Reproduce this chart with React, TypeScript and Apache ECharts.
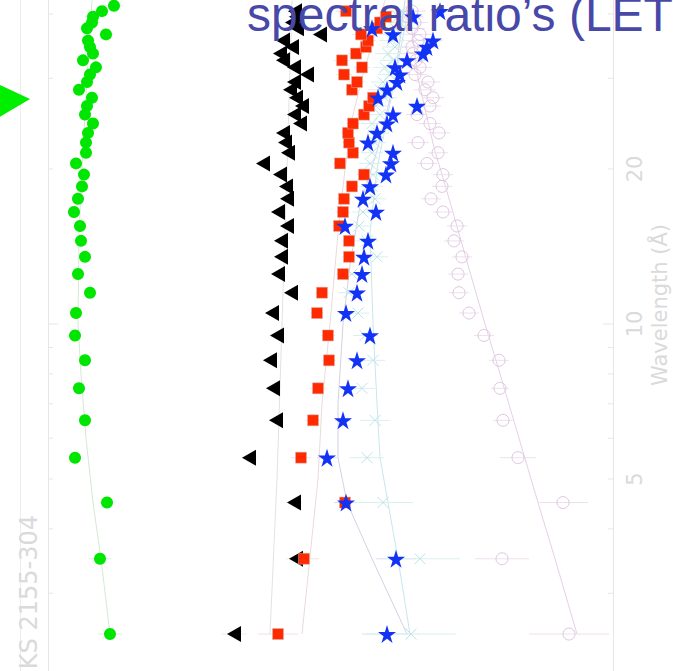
import React, { useEffect, useRef } from 'react';
import * as echarts from 'echarts';

// Wavelength bins (Angstrom), one per row of points
const WAVELENGTH = [2.5, 3.5, 4.5, 5.5, 6.5, 7.5, 8.5, 9.5, 10.5, 11.5, 12.5, 13.5, 14.5, 15.5, 16.5, 17.5, 18.5, 19.5, 20.5, 21.5, 22.5, 23.5, 24.5, 25.5, 26.5, 27.5, 28.5, 29.5, 30.5, 31.5, 32.5, 33.5, 34.5, 35.5, 36.5, 37.5, 38.5, 39.5, 40.5, 41.5];

// Spectral ratios (arbitrary offset units)
const GREEN = [0.62, 0.52, 0.59, 0.27, 0.37, 0.31, 0.37, 0.27, 0.28, 0.42, 0.30, 0.37, 0.33, 0.32, 0.26, 0.30, 0.34, 0.36, 0.28, 0.38, 0.38, 0.40, 0.45, 0.37, 0.39, 0.44, 0.31, 0.39, 0.42, 0.48, 0.35, 0.45, 0.42, 0.40, 0.58, 0.39, 0.44, 0.45, 0.54, 0.66];
const GREEN_ERR = [0.12, 0.11, 0.07, 0.06, 0.05, 0.05, 0.05, 0.05, 0.05, 0.05, 0.05, 0.05, 0.05, 0.05, 0.05, 0.05, 0.05, 0.05, 0.05, 0.05, 0.05, 0.05, 0.05, 0.05, 0.05, 0.06, 0.06, 0.06, 0.06, 0.06, 0.06, 0.06, 0.07, 0.07, 0.07, 0.07, 0.08, 0.08, 0.08, 0.09];

const BLACK = [1.86, 2.48, 2.46, 2.01, 2.28, 2.25, 2.22, 2.29, 2.24, 2.43, 2.30, 2.33, 2.33, 2.39, 2.30, 2.39, 2.38, 2.32, 2.15, 2.40, 2.37, 2.35, 2.52, 2.46, 2.54, 2.48, 2.42, 2.46, 2.59, 2.46, 2.35, 2.32, 2.44, 2.35, 2.72, 2.49, 2.44, 2.48, 2.47, null];
const BLACK_ERR = [0.13, 0.10, 0.08, 0.08, 0.07, 0.07, 0.07, 0.07, 0.06, 0.06, 0.06, 0.06, 0.06, 0.06, 0.06, 0.06, 0.06, 0.06, 0.06, 0.06, 0.06, 0.06, 0.06, 0.06, 0.06, 0.06, 0.07, 0.07, 0.07, 0.07, 0.07, 0.07, 0.07, 0.08, 0.08, 0.08, 0.08, 0.08, 0.09, 0.09];

const RED = [2.30, 2.56, 2.97, 2.53, 2.65, 2.70, 2.81, 2.80, 2.69, 2.74, 2.95, 3.01, 3.01, 2.91, 2.95, 2.96, 3.04, 3.16, 2.92, 3.05, 3.01, 3.00, 3.05, 3.16, 3.21, 3.25, 3.04, 3.09, 2.96, 3.14, 2.94, 3.08, 3.18, 3.20, 3.13, 3.29, 3.32, 3.38, 2.98, null];
const RED_ERR = [0.20, 0.15, 0.10, 0.10, 0.08, 0.08, 0.07, 0.07, 0.07, 0.07, 0.07, 0.07, 0.07, 0.07, 0.07, 0.07, 0.07, 0.07, 0.07, 0.07, 0.07, 0.07, 0.07, 0.07, 0.07, 0.07, 0.07, 0.08, 0.08, 0.08, 0.08, 0.08, 0.08, 0.08, 0.09, 0.09, 0.09, 0.09, 0.10, 0.10];

const STAR = [3.39, 3.48, 2.98, 2.79, 2.95, 3.00, 3.09, 3.22, 2.98, 3.09, 3.14, 3.16, 3.20, 2.97, 3.28, 3.15, 3.22, 3.38, 3.43, 3.45, 3.20, 3.29, 3.39, 3.45, 3.69, 3.30, 3.39, 3.49, 3.52, 3.47, 3.59, 3.75, 3.79, 3.85, 3.45, 3.24, null, 3.65, 3.92, null];
const STAR_ERR = [0.25, 0.20, 0.12, 0.10, 0.08, 0.08, 0.08, 0.08, 0.07, 0.07, 0.07, 0.07, 0.07, 0.07, 0.07, 0.07, 0.07, 0.07, 0.07, 0.07, 0.07, 0.07, 0.07, 0.08, 0.08, 0.08, 0.08, 0.08, 0.08, 0.08, 0.09, 0.09, 0.09, 0.09, 0.10, 0.10, 0.10, 0.10, 0.10, 0.10];

const CROSS = [3.63, 3.72, 3.35, 3.19, 3.27, 3.14, 3.25, 3.17, 3.10, 3.01, 3.04, 3.29, 3.19, 3.11, 3.15, 3.27, 3.24, 3.25, 3.22, 3.24, 3.27, 3.30, 3.24, 3.32, 3.28, 3.37, 3.32, 3.35, 3.42, 3.37, 3.45, 3.40, 3.47, 3.44, 3.50, 3.47, 3.52, 3.50, 3.54, null];
const CROSS_ERR = [0.45, 0.40, 0.30, 0.17, 0.15, 0.13, 0.12, 0.12, 0.11, 0.11, 0.11, 0.11, 0.11, 0.11, 0.11, 0.11, 0.11, 0.11, 0.11, 0.11, 0.11, 0.11, 0.11, 0.12, 0.12, 0.12, 0.12, 0.12, 0.12, 0.12, 0.13, 0.13, 0.13, 0.13, 0.14, 0.14, 0.14, 0.14, 0.15, 0.15];

const CIRCLE = [5.21, 4.54, 5.15, 4.70, 4.55, 4.52, 4.51, 4.36, 4.21, 4.11, 4.10, 4.14, 4.06, 4.09, 3.95, 3.83, 3.94, 3.95, 3.79, 3.90, 3.70, 3.91, 3.82, 3.69, 3.82, 3.85, 3.77, 3.80, 3.67, 3.72, 3.68, 3.65, 3.64, 3.70, 3.72, 3.64, 3.67, 3.60, 3.64, null];
const CIRCLE_ERR = [0.40, 0.27, 0.25, 0.18, 0.10, 0.09, 0.10, 0.10, 0.10, 0.10, 0.10, 0.10, 0.10, 0.10, 0.10, 0.10, 0.10, 0.10, 0.10, 0.10, 0.11, 0.11, 0.11, 0.11, 0.11, 0.11, 0.11, 0.12, 0.12, 0.12, 0.12, 0.12, 0.12, 0.12, 0.13, 0.13, 0.13, 0.13, 0.14, 0.14];

// Model curves: [ratio, wavelength]
const GREEN_MODEL = [[0.62, 2.5], [0.53, 3.5], [0.45, 4.5], [0.38, 6], [0.33, 8], [0.30, 10], [0.31, 15], [0.34, 20], [0.39, 30], [0.44, 42.5]];
const BLACK_MODEL = [[2.22, 2.5], [2.29, 5], [2.34, 10], [2.39, 20], [2.44, 42.5]];
const RED_MODEL = [[2.54, 2.5], [2.70, 5], [2.74, 7], [2.82, 10], [2.90, 15], [2.97, 20], [3.04, 25], [3.14, 30], [3.24, 35], [3.37, 42.5]];
const STAR_MODEL = [[3.59, 2.5], [3.24, 3.5], [2.99, 4.5], [2.90, 5.5], [2.90, 7], [2.95, 10], [3.02, 13], [3.12, 17], [3.30, 22], [3.47, 30], [3.57, 42.5]];
const CROSS_MODEL = [[3.62, 2.5], [3.50, 3.5], [3.40, 4.5], [3.32, 5.5], [3.29, 7], [3.25, 10], [3.22, 15], [3.29, 20], [3.47, 30], [3.62, 42.5]];
const CIRCLE_MODEL = [[5.29, 2.5], [5.07, 3.5], [4.90, 4.5], [4.71, 6], [4.52, 8], [4.37, 10], [4.20, 13], [4.03, 17], [3.86, 22], [3.70, 30], [3.60, 42.5]];

// Wavelength axis ticks
const TICKS = [3, 4, 5, 6, 7, 8, 9, 10, 20, 30, 40];
const MAJOR_TICKS = [10];
const TICK_LABELS = [5, 10, 20];

const X_MIN = 0;
const X_MAX = 5.65;
const L_MIN = 2.119;
const L_MAX = 42.57;

const AXIS_GRAY = '#e6e6e6';
const TEXT_GRAY = '#dadada';

const STAR_PATH = 'path://M50,0L61.2,34.5L97.6,34.5L68.2,55.9L79.4,90.5L50,69.1L20.6,90.5L31.8,55.9L2.4,34.5L38.8,34.5Z';
const LEFT_TRI = 'path://M0,50L86,0L86,100Z';
const CROSS_PATH = 'path://M0,0L10,10M10,0L0,10';

function points(vals: (number | null)[]) {
  const out: number[][] = [];
  WAVELENGTH.forEach((l, i) => {
    const v = vals[i];
    if (v !== null && v !== undefined) out.push([v, l]);
  });
  return out;
}

function errPoints(vals: (number | null)[], errs: number[]) {
  const out: number[][] = [];
  WAVELENGTH.forEach((l, i) => {
    const v = vals[i];
    if (v !== null && v !== undefined) out.push([v, l, errs[i]]);
  });
  return out;
}

function errorSeries(vals: (number | null)[], errs: number[], color: string) {
  return {
    type: 'custom',
    z: 2,
    clip: true,
    silent: true,
    data: errPoints(vals, errs),
    renderItem: (params: any, api: any) => {
      const v = api.value(0);
      const l = api.value(1);
      const e = api.value(2);
      const a = api.coord([v - e, l]);
      const b = api.coord([v + e, l]);
      return {
        type: 'line',
        shape: { x1: a[0], y1: a[1], x2: b[0], y2: b[1] },
        style: { stroke: color, lineWidth: 1 },
      };
    },
  };
}

function modelSeries(data: number[][], color: string) {
  return {
    type: 'line',
    z: 1,
    silent: true,
    showSymbol: false,
    symbol: 'none',
    data,
    lineStyle: { color, width: 1 },
  };
}

export default function App() {
  const ref = useRef<HTMLDivElement>(null);

  useEffect(() => {
    if (!ref.current) return;
    const chart = echarts.init(ref.current, null, { renderer: 'svg' });

    const option: any = {
      animation: false,
      backgroundColor: '#ffffff',
      grid: { left: 48, right: 60, top: 0, bottom: 0 },
      xAxis: {
        type: 'value',
        min: X_MIN,
        max: X_MAX,
        show: false,
      },
      yAxis: [
        {
          type: 'log',
          min: L_MIN,
          max: L_MAX,
          position: 'left',
          axisLine: { show: true, lineStyle: { color: AXIS_GRAY, width: 1 } },
          axisTick: { show: false },
          axisLabel: { show: false },
          splitLine: { show: false },
          minorTick: { show: false },
        },
        {
          type: 'log',
          min: L_MIN,
          max: L_MAX,
          position: 'right',
          axisLine: { show: true, lineStyle: { color: AXIS_GRAY, width: 1 } },
          axisTick: { show: false },
          axisLabel: { show: false },
          splitLine: { show: false },
          minorTick: { show: false },
        },
      ],
      graphic: [
        {
          type: 'line',
          shape: { x1: 20.5, y1: 0, x2: 20.5, y2: 671 },
          style: { stroke: '#ececec', lineWidth: 1 },
          z: 0,
        },
        {
          type: 'polygon',
          shape: { points: [[-2, 84], [30, 99], [-2, 118]] },
          style: { fill: '#00ee00' },
          z: 10,
        },
        {
          type: 'text',
          x: 29,
          y: 515,
          rotation: Math.PI / 2,
          style: {
            text: 'KS 2155-304',
            fill: TEXT_GRAY,
            fontSize: 24,
            fontFamily: 'DejaVu Sans',
            align: 'right',
            verticalAlign: 'middle',
          },
          z: 10,
        },
        {
          type: 'text',
          x: 660,
          y: 305,
          rotation: Math.PI / 2,
          style: {
            text: 'Wavelength (Å)',
            fill: TEXT_GRAY,
            fontSize: 21,
            fontFamily: 'DejaVu Sans',
            align: 'center',
            verticalAlign: 'middle',
          },
          z: 10,
        },
        {
          type: 'text',
          x: 247,
          y: 14,
          style: {
            text: 'spectral ratio’s (LET',
            fill: '#4848a8',
            fontSize: 48,
            fontFamily: 'Liberation Sans',
            align: 'left',
            verticalAlign: 'middle',
          },
          z: 100,
        },
      ],
      series: [
        modelSeries(GREEN_MODEL, '#d6e8d6'),
        modelSeries(BLACK_MODEL, '#e2e2e2'),
        modelSeries(RED_MODEL, '#ecdada'),
        modelSeries(STAR_MODEL, '#d2d2e6'),
        modelSeries(CROSS_MODEL, '#c6e8ea'),
        modelSeries(CIRCLE_MODEL, '#e6d0e6'),
        errorSeries(GREEN, GREEN_ERR, '#dcefdc'),
        errorSeries(BLACK, BLACK_ERR, '#ececec'),
        errorSeries(RED, RED_ERR, '#f2e2e2'),
        errorSeries(STAR, STAR_ERR, '#dedef2'),
        errorSeries(CROSS, CROSS_ERR, '#d8f0f0'),
        errorSeries(CIRCLE, CIRCLE_ERR, '#eee0ee'),
        {
          type: 'scatter',
          z: 3,
          data: points(CIRCLE),
          symbol: 'circle',
          symbolSize: 12,
          itemStyle: { color: 'rgba(0,0,0,0)', borderColor: '#e0c6e0', borderWidth: 1, opacity: 1 },
        },
        {
          type: 'scatter',
          z: 4,
          data: points(CROSS),
          symbol: CROSS_PATH,
          symbolSize: 11,
          itemStyle: { color: 'rgba(0,0,0,0)', borderColor: '#bce4e6', borderWidth: 1, opacity: 1 },
        },
        {
          type: 'scatter',
          z: 5,
          data: points(GREEN),
          symbol: 'circle',
          symbolSize: 12,
          itemStyle: { color: '#00e600', opacity: 1 },
        },
        {
          type: 'scatter',
          z: 6,
          data: points(BLACK),
          symbol: LEFT_TRI,
          symbolSize: [14, 16],
          itemStyle: { color: '#000000', opacity: 1 },
        },
        {
          type: 'scatter',
          z: 7,
          data: points(RED),
          symbol: 'rect',
          symbolSize: 11,
          itemStyle: { color: '#ff2a00', borderColor: '#d8b0a8', borderWidth: 0.5, opacity: 1 },
        },
        {
          type: 'scatter',
          z: 8,
          data: points(STAR),
          symbol: STAR_PATH,
          symbolSize: 18,
          itemStyle: { color: '#1233f5', opacity: 1 },
        },
        {
          type: 'custom',
          z: 9,
          silent: true,
          clip: false,
          data: TICKS.map((t) => [X_MIN, t]),
          renderItem: (params: any, api: any) => {
            const l = api.value(1);
            const pl = api.coord([X_MIN, l]);
            const pr = api.coord([X_MAX, l]);
            const len = MAJOR_TICKS.indexOf(l) >= 0 ? 10 : 5;
            const children: any[] = [
              {
                type: 'line',
                shape: { x1: pl[0], y1: pl[1], x2: pl[0] + len, y2: pl[1] },
                style: { stroke: AXIS_GRAY, lineWidth: 1 },
              },
              {
                type: 'line',
                shape: { x1: pr[0] - len, y1: pr[1], x2: pr[0], y2: pr[1] },
                style: { stroke: AXIS_GRAY, lineWidth: 1 },
              },
            ];
            if (TICK_LABELS.indexOf(l) >= 0) {
              children.push({
                type: 'text',
                x: pr[0] + 22,
                y: pr[1],
                rotation: Math.PI / 2,
                style: {
                  text: String(l),
                  fill: TEXT_GRAY,
                  fontSize: 21,
                  fontFamily: 'DejaVu Sans',
                  align: 'center',
                  verticalAlign: 'middle',
                },
              });
            }
            return { type: 'group', children };
          },
        },
      ],
    };

    chart.setOption(option);
    return () => chart.dispose();
  }, []);

  return (
    <div
      ref={ref}
      style={{ position: 'fixed', left: 0, top: 0, width: 673, height: 671, background: '#fff' }}
    />
  );
}
